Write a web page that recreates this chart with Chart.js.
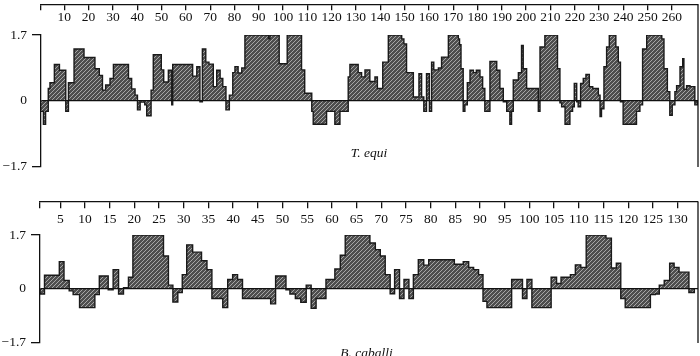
<!DOCTYPE html>
<html>
<head>
<meta charset="utf-8">
<script src="https://cdn.jsdelivr.net/npm/chart.js@4.4.0/dist/chart.umd.min.js"></script>
<style>
  html, body { margin: 0; padding: 0; background: #fff; overflow: hidden; }
  #wrap { position: relative; width: 700px; height: 356px; overflow: hidden; }
  #wrap canvas { position: absolute; left: 0; }
  .species {
    position: absolute; transform: translateX(-50%); white-space: nowrap;
    font: italic 13.5px 'Liberation Serif', 'Times New Roman', serif;
    line-height: 16px; color: #111;
  }
</style>
</head>
<body>
<div id="wrap">
  <canvas id="equiChart" width="700" height="180" style="top:0"></canvas>
  <canvas id="caballiChart" width="700" height="176" style="top:180px"></canvas>
  <div class="species" style="left:369px; top:145px">T. equi</div>
  <div class="species" style="left:366.5px; top:345px">B. caballi</div>
</div>
<script>
// hydropathy profiles: residue where each step starts, and its value
const equiPos = [0.4, 1.4, 2.3, 3.4, 4.1, 5.9, 8.0, 10.6, 11.7, 14.0,
  18.1, 22.6, 24.4, 25.7, 27.0, 28.8, 30.2, 36.4, 37.7, 39.1,
  40.1, 41.2, 43.1, 43.9, 45.7, 46.6, 49.9, 50.9, 52.8, 54.2,
  54.6, 62.8, 64.5, 65.8, 66.8, 68.2, 69.5, 71.3, 72.7, 74.1,
  75.2, 76.5, 77.9, 79.3, 80.2, 81.5, 83.0, 84.3, 94.0, 94.6,
  98.4, 101.7, 107.6, 108.9, 111.8, 112.4, 117.9, 121.3, 123.4, 126.8,
  127.5, 130.9, 132.3, 133.7, 135.7, 137.8, 138.8, 141.0, 143.3, 148.8,
  149.7, 150.8, 153.6, 155.9, 157.0, 157.9, 159.0, 160.2, 161.1, 162.0,
  163.9, 165.2, 168.0, 172.1, 172.6, 173.2, 174.1, 174.8, 175.8, 176.9,
  178.3, 179.5, 181.0, 182.1, 183.0, 185.1, 187.9, 189.2, 190.6, 192.0,
  193.3, 194.0, 194.7, 196.8, 198.1, 198.8, 200.2, 205.0, 205.7, 207.7,
  212.9, 213.9, 214.6, 216.0, 218.0, 219.1, 219.8, 220.8, 221.4, 222.4,
  223.5, 224.6, 226.0, 227.4, 229.7, 230.4, 231.0, 232.0, 233.1, 234.2,
  236.9, 237.9, 238.8, 239.9, 245.4, 246.8, 247.9, 249.6, 255.8, 256.7,
  258.1, 259.1, 260.1, 261.2, 261.9, 263.3, 264.4, 264.9, 266.0, 267.4,
  269.4, 270.4];
const equiVal = [-0.27, -0.60, -0.27, 0.32, 0.47, 0.94, 0.79, -0.27, 0.47, 1.34,
  1.12, 0.83, 0.66, 0.28, 0.41, 0.58, 0.94, 0.58, 0.31, 0.15,
  -0.23, -0.03, -0.10, -0.38, 0.28, 1.19, 0.80, 0.49, 0.79, -0.10,
  0.94, 0.64, 0.88, -0.02, 1.34, 1.00, 0.95, 0.37, 0.79, 0.58,
  0.37, -0.23, 0.15, 0.73, 0.88, 0.72, 0.85, 1.70, 1.60, 1.70,
  0.96, 1.70, 0.80, 0.20, -0.27, -0.60, -0.27, -0.60, -0.27, 0.62,
  0.94, 0.73, 0.62, 0.80, 0.50, 0.62, 0.32, 1.00, 1.70, 1.60,
  1.47, 0.73, 0.10, 0.70, 0.10, -0.27, 0.70, -0.27, 1.00, 0.80,
  0.85, 1.13, 1.70, 1.60, 1.45, 0.83, -0.27, -0.10, 0.47, 0.79,
  0.73, 0.79, 0.62, 0.32, -0.27, 1.02, 0.79, 0.32, -0.02, -0.27,
  -0.60, -0.27, 0.54, 0.73, 1.43, 0.83, 0.32, -0.27, 1.39, 1.70,
  0.83, -0.05, -0.15, -0.60, -0.27, -0.15, 0.45, -0.02, -0.15, 0.45,
  0.58, 0.68, 0.37, 0.32, 0.15, -0.40, -0.20, 0.88, 1.39, 1.70,
  1.39, 1.00, -0.02, -0.60, -0.27, -0.10, 1.34, 1.70, 1.60, 0.83,
  0.24, -0.37, -0.10, 0.24, 0.39, 0.88, 1.09, 0.30, 0.39, 0.37,
  -0.10, 0];

const caballiPos = [0.9, 1.8, 4.8, 5.75, 6.8, 7.6, 8.9, 12.0, 12.9, 14.7,
  15.7, 16.8, 17.8, 18.8, 19.7, 25.9, 26.9, 27.8, 28.8, 29.7,
  30.6, 31.8, 33.6, 34.7, 35.7, 37.9, 38.9, 39.9, 40.9, 41.9,
  47.6, 48.6, 50.7, 51.5, 52.6, 53.7, 54.8, 55.8, 56.8, 58.8,
  60.6, 61.7, 62.7, 67.7, 68.8, 69.8, 70.8, 71.8, 72.7, 73.7,
  74.6, 75.6, 76.5, 77.5, 78.6, 79.6, 84.8, 86.6, 87.7, 88.7,
  89.7, 90.6, 91.4, 96.4, 98.6, 99.5, 100.5, 104.4, 105.5, 106.4,
  108.3, 109.3, 110.4, 111.5, 115.5, 116.6, 117.6, 118.5, 119.4, 124.5,
  125.5, 126.3, 127.3, 128.4, 129.3, 130.3, 132.3, 133.4];
const caballiVal = [-0.16, 0.43, 0.86, 0.27, -0.06, -0.18, -0.59, -0.18, 0.41, -0.03,
  0.61, -0.16, 0.04, 0.37, 1.70, 1.04, 0.12, -0.41, -0.11, 0.45,
  1.39, 1.16, 0.89, 0.61, -0.30, -0.59, 0.30, 0.45, 0.30, -0.30,
  -0.47, 0.41, -0.03, -0.16, -0.30, -0.42, 0.12, -0.61, -0.30, 0.30,
  0.63, 1.06, 1.70, 1.45, 1.24, 1.04, 0.45, -0.15, 0.61, -0.30,
  0.30, -0.30, 0.45, 0.92, 0.75, 0.92, 0.78, 0.86, 0.68, 0.61,
  0.45, -0.39, -0.59, 0.30, -0.30, 0.30, -0.59, 0.37, 0.17, 0.37,
  0.45, 0.76, 0.68, 1.70, 1.60, 0.66, 0.81, -0.30, -0.59, -0.18,
  -0.16, 0.12, 0.27, 0.81, 0.68, 0.53, -0.11, 0];

const equiTicks = [10, 20, 30, 40, 50, 60, 70, 80, 90, 100, 110, 120, 130,
  140, 150, 160, 170, 180, 190, 200, 210, 220, 230, 240, 250, 260];
const caballiTicks = [5, 10, 15, 20, 25, 30, 35, 40, 45, 50, 55, 60, 65,
  70, 75, 80, 85, 90, 95, 100, 105, 110, 115, 120, 125, 130];
const yTicks = [-1.7, 0, 1.7];

const INK = '#111';
const serif = {family: "'Liberation Serif', 'Times New Roman', serif", size: 13.5};

// grey fill with light diagonal hatching
function hatch() {
  const c = document.createElement('canvas');
  c.width = 4;
  c.height = 4;
  const g = c.getContext('2d');
  g.fillStyle = '#4e4e4e';
  g.fillRect(0, 0, 4, 4);
  g.strokeStyle = '#a6a6a6';
  g.lineWidth = 1;
  g.beginPath();
  g.moveTo(-1, 5); g.lineTo(5, -1);
  g.moveTo(-1, 1); g.lineTo(1, -1);
  g.moveTo(3, 5); g.lineTo(5, 3);
  g.stroke();
  return g.createPattern(c, 'repeat');
}

// vertical line closing the plot at the right end
const frameLine = {
  id: 'frameLine',
  afterDraw(chart, args, opts) {
    const {ctx, scales: {x, y}} = chart;
    const px = x.getPixelForValue(x.max);
    ctx.save();
    ctx.strokeStyle = INK;
    ctx.lineWidth = 1.3;
    ctx.beginPath();
    ctx.moveTo(px, y.getPixelForValue(opts.top));
    ctx.lineTo(px, y.bottom);
    ctx.stroke();
    ctx.restore();
  },
};

function makeChart(id, pos, val, ticks, cfg) {
  const points = [{x: pos[0], y: 0}].concat(pos.map((p, i) => ({x: p, y: val[i]})));
  return new Chart(document.getElementById(id), {
    type: 'line',
    data: {
      datasets: [{
        data: points,
        stepped: true,
        fill: 'origin',
        backgroundColor: hatch(),
        borderColor: '#1a1a1a',
        borderWidth: 1.4,
        pointRadius: 0,
      }],
    },
    options: {
      responsive: false,
      animation: false,
      events: [],
      layout: {padding: {left: 0, right: 2, top: cfg.top, bottom: cfg.bottom}},
      plugins: {
        legend: {display: false},
        tooltip: {enabled: false},
        frameLine: {top: cfg.axisAt},
      },
      scales: {
        x: {
          type: 'linear',
          min: cfg.min,
          max: cfg.max,
          position: {y: cfg.axisAt},
          afterBuildTicks: (s) => {
            s.ticks = [cfg.min].concat(ticks).map((v) => ({value: v}));
          },
          grid: {drawOnChartArea: false, color: INK, lineWidth: 1.3, tickLength: cfg.tickLen},
          border: {color: INK, width: 1.3},
          ticks: {
            autoSkip: false, maxRotation: 0, minRotation: 0,
            padding: cfg.pad, color: INK, font: serif,
            callback: (v) => (v === cfg.min ? '' : String(v)),
          },
        },
        y: {
          min: -1.7,
          max: 1.7,
          afterBuildTicks: (s) => {
            s.ticks = yTicks.map((v) => ({value: v}));
          },
          afterFit: (s) => {
            s.width = cfg.left;
          },
          grid: {
            z: 1,
            lineWidth: 1.3,
            tickLength: 9,
            color: (c) => (c.tick && c.tick.value === 0 ? INK : 'rgba(0,0,0,0)'),
            tickColor: (c) => (c.tick && c.tick.value === 0 ? 'rgba(0,0,0,0)' : INK),
          },
          border: {color: INK, width: 1.3, z: 1},
          ticks: {
            padding: 5, color: INK, font: serif,
            callback: (v) => (v === 0 ? '0' : (v < 0 ? '\u2212' + Math.abs(v) : String(v))),
          },
        },
      },
    },
    plugins: [frameLine],
  });
}

makeChart('equiChart', equiPos, equiVal, equiTicks,
  {min: 0.41, max: 270.7, left: 41, top: 35, bottom: 11, axisAt: 2.49, tickLen: 5, pad: 0});
makeChart('caballiChart', caballiPos, caballiVal, caballiTicks,
  {min: 0.89, max: 134.14, left: 40, top: 55, bottom: 9.3, axisAt: 2.744, tickLen: 6, pad: 3});
</script>
</body>
</html>
